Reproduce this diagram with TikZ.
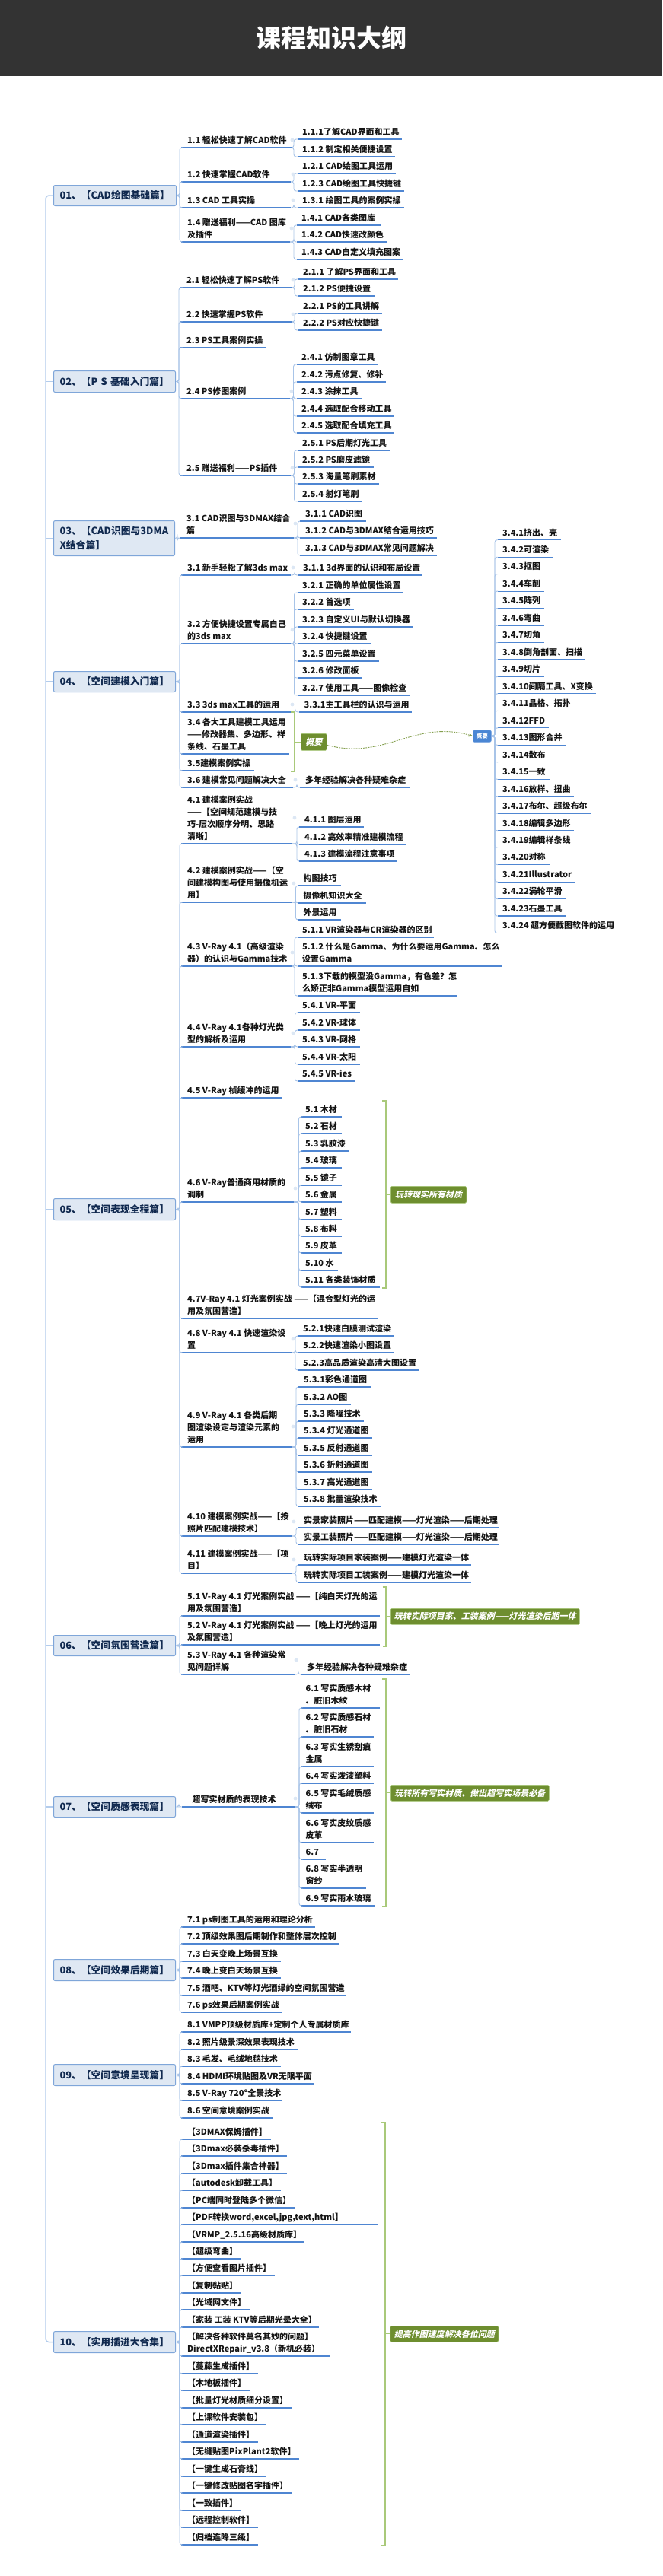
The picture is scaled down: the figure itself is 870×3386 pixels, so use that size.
\documentclass[tikz,border=0pt]{standalone}
\usepackage{fontspec}
\setmainfont{Noto Sans CJK SC}
\newfontfamily\slantface{Noto Sans CJK SC}[BoldFeatures={FakeSlant=0.22}]
\usetikzlibrary{arrows.meta}
\definecolor{barcol}{HTML}{333333}
\definecolor{ulinecol}{HTML}{4F86D2}
\definecolor{conncol}{HTML}{A8C4E8}
\definecolor{spinecol}{HTML}{B3CCEC}
\definecolor{rootfill}{HTML}{DFE8F3}
\definecolor{rootline}{HTML}{7FA6D9}
\definecolor{rootink}{HTML}{10294F}
\definecolor{knobcol}{HTML}{DCE7F4}
\definecolor{sumfill}{HTML}{6E8E2F}
\definecolor{sumline}{HTML}{A9C97A}
\definecolor{bluefill}{HTML}{4A86D4}
\tikzset{
  topic/.style={anchor=south west,inner sep=0pt,align=left,text=black!92,font=\fontsize{11}{16}\selectfont\bfseries},
  uline/.style={draw=ulinecol,line width=1.1pt},
  conn/.style={draw=conncol,line width=0.9pt,rounded corners=3pt},
  spine/.style={draw=spinecol,line width=1.5pt,rounded corners=4pt},
  rootbox/.style={draw=rootline,fill=rootfill,line width=1pt,rounded corners=2pt,anchor=north west,inner xsep=8pt,inner ysep=0pt,align=left,text=rootink,font=\fontsize{12.8}{19}\selectfont\bfseries},
  sumbox/.style={draw=sumline,fill=sumfill,line width=0.5pt,rounded corners=1.5pt,anchor=north west,inner sep=0pt,align=center,text=white,font=\slantface\fontsize{11}{14}\selectfont\bfseries},
  bracket/.style={draw=sumline,line width=1.1pt},
  sumlink/.style={draw=sumfill!85!white,line width=0.9pt,dash pattern=on 2pt off 1.2pt,-{Stealth[length=5pt,width=4.5pt]}},
  bluebox/.style={draw=bluefill!80!white,fill=bluefill,line width=0.6pt,rounded corners=2pt,anchor=north west,inner sep=0pt,align=center,text=white,font=\fontsize{7.5}{9}\selectfont\bfseries},
  titletext/.style={text=white,inner sep=0pt,font=\fontsize{33}{36}\selectfont\bfseries},
}
\newcommand{\tp}[6]{%
  \coordinate (#1-a) at (#3,#5);
  \coordinate (#1-b) at (#4,#5);
  \node[topic] (#1) at (#2,#5-0.7) {#6\strut};
  \draw[uline] (#1-a) -- (#1-b);
}
\newcommand{\linkup}[3]{%
  \coordinate (vv) at (#2,0);
  \foreach \cc in {#3}{\draw[conn] (#1) -- (vv |- #1) -- (vv |- \cc-a) -- (\cc-a);}
}
\newcommand{\knob}[2]{\fill[knobcol] (#1,#2) circle (2.4pt);}
\newcommand{\rootb}[6]{%
  \node[rootbox,minimum width=#4pt-#2pt,minimum height=#5pt-#3pt,text width=#4pt-#2pt-16pt] (#1) at (#2,#3) {#6};
}
\newcommand{\summ}[6]{%
  \node[sumbox,minimum width=#4pt-#2pt,minimum height=#5pt-#3pt] (#1) at (#2,#3) {#6};
}
\newcommand{\brk}[5]{%
  \coordinate (#1-t) at (#3,#4);
  \coordinate (#1-u) at (#3,#5);
  \coordinate (#1-v) at (#2,0);
  \draw[bracket] (#1-t) -- (#1-v |- #1-t) -- (#1-v |- #1-u) -- (#1-u);
  \draw[bracket] (#1-v |- #1.west) -- (#1.west);
}
\begin{document}
\begin{tikzpicture}[x=1pt,y=-1pt]
\useasboundingbox (0,0) rectangle (870,3386);
\fill[white] (0,0) rectangle (870,3386);
\fill[barcol] (0,0) rectangle (870,100);
\node[titletext] (title) at (435,50) {课程知识大纲};

% roots
\rootb{r01}{70}{243}{231}{270}{01、【CAD绘图基础篇】}
\rootb{r02}{70}{487}{230}{515}{02、【P S 基础入门篇】}
\rootb{r03}{70}{684}{229}{730}{03、【CAD识图与3DMA\\X结合篇】}
\rootb{r04}{70}{882}{230}{909}{04、【空间建模入门篇】}
\rootb{r05}{70}{1575}{230}{1603}{05、【空间表现全程篇】}
\rootb{r06}{70}{2149}{230}{2176}{06、【空间氛围营造篇】}
\rootb{r07}{70}{2361}{230}{2388}{07、【空间质感表现篇】}
\rootb{r08}{70}{2575}{230}{2603}{08、【空间效果后期篇】}
\rootb{r09}{70}{2713}{230}{2741}{09、【空间意境呈现篇】}
\rootb{r10}{70}{3064}{230}{3092}{10、【实用插进大合集】}
\coordinate (sx) at (60,0);
\draw[spine] (r01.west) -- (sx |- r01.west) -- (sx |- r10.west) -- (r10.west);
\foreach \rr in {r02,r03,r04,r05,r06,r07,r08,r09}{\draw[spine] (sx |- \rr.west) -- (\rr.west);}
\foreach \rr in {r01,r02,r03,r04,r05,r06,r07,r08,r09,r10}{\fill[knobcol] (\rr.east) ++(3,0) circle (2.2pt);}

% group 01
\tp{t11}{246}{238}{383}{194}{1.1 轻松快速了解CAD软件}
\tp{t12}{246}{238}{382}{239}{1.2 快速掌握CAD软件}
\tp{t13}{246}{238}{382}{273}{1.3 CAD 工具实操}
\tp{t14}{246}{238}{381}{318}{1.4 赠送福利——CAD 图库\\及插件}
\tp{t111}{397}{391}{528}{183}{1.1.1了解CAD界面和工具}
\tp{t112}{397}{391}{519}{206}{1.1.2 制定相关便捷设置}
\tp{t121}{397}{391}{520}{228}{1.2.1 CAD绘图工具运用}
\tp{t123}{397}{391}{531}{251}{1.2.3 CAD绘图工具快捷键}
\tp{t131}{397}{391}{531}{273}{1.3.1 绘图工具的案例实操}
\tp{t141}{396}{390}{500}{296}{1.4.1 CAD各类图库}
\tp{t142}{396}{390}{508}{318}{1.4.2 CAD快速改颜色}
\tp{t143}{396}{390}{530}{341}{1.4.3 CAD自定义填充图案}
\linkup{r01.east}{236}{t11,t12,t13,t14}
\linkup{t11-b}{386}{t111,t112}\knob{384}{184}
\linkup{t12-b}{386}{t121,t123}\knob{385}{229}
\linkup{t13-b}{386}{t131}\knob{385}{263}
\linkup{t14-b}{386}{t141,t142,t143}\knob{383}{300}

% group 02
\tp{t21}{245}{237}{383}{378}{2.1 轻松快速了解PS软件}
\tp{t22}{245}{237}{383}{423}{2.2 快速掌握PS软件}
\tp{t23}{245}{237}{350}{457}{2.3 PS工具案例实操}
\tp{t24}{245}{237}{381}{524}{2.4 PS修图案例}
\tp{t25}{245}{237}{382}{625}{2.5 赠送福利——PS插件}
\tp{t211}{398}{392}{523}{367}{2.1.1 了解PS界面和工具}
\tp{t212}{398}{392}{492}{389}{2.1.2 PS便捷设置}
\tp{t221}{398}{392}{502}{412}{2.2.1 PS的工具讲解}
\tp{t222}{398}{392}{502}{434}{2.2.2 PS对应快捷键}
\tp{t241}{396}{390}{497}{479}{2.4.1 仿制图章工具}
\tp{t242}{396}{390}{507}{502}{2.4.2 污点修复、修补}
\tp{t243}{396}{390}{475}{524}{2.4.3 涂抹工具}
\tp{t244}{396}{390}{518}{547}{2.4.4 选取配合移动工具}
\tp{t245}{396}{390}{518}{569}{2.4.5 选取配合填充工具}
\tp{t251}{397}{391}{513}{592}{2.5.1 PS后期灯光工具}
\tp{t252}{397}{391}{491}{614}{2.5.2 PS磨皮滤镜}
\tp{t253}{397}{391}{497.5}{636}{2.5.3 海量笔刷素材}
\tp{t254}{397}{391}{476}{659}{2.5.4 射灯笔刷}
\linkup{r02.east}{235}{t21,t22,t23,t24,t25}
\linkup{t21-b}{387}{t211,t212}\knob{385}{368}
\linkup{t22-b}{387}{t221,t222}\knob{385}{413}
\linkup{t24-b}{385.5}{t241,t242,t243,t244,t245}\knob{383}{514}
\linkup{t25-b}{386.5}{t251,t252,t253,t254}\knob{384}{615}

% group 03
\tp{t31}{245}{236}{386}{707}{3.1 CAD识图与3DMAX结合\\篇}
\tp{t311}{401}{394}{481}{685}{3.1.1 CAD识图}
\tp{t312}{401}{394}{574}{707}{3.1.2 CAD与3DMAX结合运用技巧}
\tp{t313}{401}{394}{574}{730}{3.1.3 CAD与3DMAX常见问题解决}
\linkup{r03.east}{233}{t31}
\linkup{t31-b}{391}{t311,t312,t313}\knob{388}{688}

% group 04
\tp{t41}{246}{238}{382}{756}{3.1 新手轻松了解3ds max}
\tp{t42}{246}{238}{382}{846}{3.2 方便快捷设置专属自己\\的3ds max}
\tp{t43}{246}{238}{383}{936}{3.3 3ds max工具的运用}
\tp{t44}{246}{238}{380}{991}{3.4 各大工具建模工具运用\\——修改器集、多边形、样\\条线、石墨工具}
\tp{t45}{246}{238}{334}{1013}{3.5建模案例实操}
\tp{t46}{246}{238}{385}{1035}{3.6 建模常见问题解决大全}
\tp{t411}{398}{392}{555}{756}{3.1.1 3d界面的认识和布局设置}
\tp{t421}{397}{391}{530}{779}{3.2.1 正确的单位属性设置}
\tp{t422}{397}{391}{465}{801}{3.2.2 首选项}
\tp{t423}{397}{391}{542}{824}{3.2.3 自定义UI与默认切换器}
\tp{t424}{397}{391}{487}{846}{3.2.4 快捷键设置}
\tp{t425}{397}{391}{498}{869}{3.2.5 四元菜单设置}
\tp{t426}{397}{391}{476}{891}{3.2.6 修改面板}
\tp{t427}{397}{391}{538}{914}{3.2.7 使用工具——图像检查}
\tp{t431}{399.5}{393}{541}{936}{3.3.1主工具栏的认识与运用}
\tp{t461}{401}{394}{538}{1035}{多年经验解决各种疑难杂症}
\linkup{r04.east}{236}{t41,t42,t43,t44,t45,t46}
\linkup{t41-b}{387}{t411}\knob{385}{746}
\linkup{t42-b}{386.5}{t421,t422,t423,t424,t425,t426,t427}\knob{384}{828}
\linkup{t43-b}{388}{t431}\knob{384}{926}
\linkup{t46-b}{390}{t461}\knob{388}{1025}

% summary on 3.4-3.5, and the 3.4 list
\summ{s34}{395}{964}{429}{986}{概要}
\brk{s34}{387}{382}{936}{1014}
\node[bluebox,minimum width=24pt,minimum height=15.5pt] (b34) at (621,959.5) {概要};
\draw[sumlink] (s34.east) ++(0,4) .. controls (505,1000) and (545,945) .. (b34.west);
\tp{u1}{660}{654}{737}{709.7}{3.4.1挤出、壳}
\tp{u2}{660}{654}{726}{732.2}{3.4.2可渲染}
\tp{u3}{660}{654}{715}{754.6}{3.4.3抠图}
\tp{u4}{660}{654}{715}{777.1}{3.4.4车削}
\tp{u5}{660}{654}{715}{799.6}{3.4.5阵列}
\tp{u6}{660}{654}{715}{822}{3.4.6弯曲}
\tp{u7}{660}{654}{715}{844.5}{3.4.7切角}
\tp{u8}{660}{654}{769}{867}{3.4.8倒角剖面、扫描}
\tp{u9}{660}{654}{715}{889.5}{3.4.9切片}
\tp{u10}{660}{654}{783}{911.9}{3.4.10间隔工具、X变换}
\tp{u11}{660}{654}{754}{934.4}{3.4.11晶格、拓扑}
\tp{u12}{660}{654}{721}{956.9}{3.4.12FFD}
\tp{u13}{660}{654}{743}{979.3}{3.4.13图形合并}
\tp{u14}{660}{654}{722}{1001.8}{3.4.14散布}
\tp{u15}{660}{654}{722}{1024.3}{3.4.15一致}
\tp{u16}{660}{654}{754}{1046.8}{3.4.16放样、扭曲}
\tp{u17}{660}{654}{776}{1069.2}{3.4.17布尔、超级布尔}
\tp{u18}{660}{654}{754}{1091.7}{3.4.18编辑多边形}
\tp{u19}{660}{654}{754}{1114.2}{3.4.19编辑样条线}
\tp{u20}{660}{654}{722}{1136.6}{3.4.20对称}
\tp{u21}{660}{654}{755}{1159.1}{3.4.21Illustrator}
\tp{u22}{660}{654}{743}{1181.6}{3.4.22涡轮平滑}
\tp{u23}{660}{654}{743}{1204}{3.4.23石墨工具}
\tp{u24}{660}{654}{811}{1226.5}{3.4.24 超方便截图软件的运用}
\linkup{b34.east}{650}{u1,u2,u3,u4,u5,u6,u7,u8,u9,u10,u11,u12,u13,u14,u15,u16,u17,u18,u19,u20,u21,u22,u23,u24}

% group 05
\tp{t51}{246}{238}{384}{1109}{4.1 建模案例实战\\——【空间规范建模与技\\巧-层次顺序分明、思路\\清晰】}
\tp{t52}{246}{238}{383}{1186}{4.2 建模案例实战——【空\\间建模构图与使用摄像机运\\用】}
\tp{t53}{246}{238}{383}{1270}{4.3 V-Ray 4.1（高级渲染\\器）的认识与Gamma技术}
\tp{t54}{246}{238}{382}{1376}{4.4 V-Ray 4.1各种灯光类\\型的解析及运用}
\tp{t55}{246}{238}{370}{1443}{4.5 V-Ray 桢缓冲的运用}
\tp{t56}{246}{238}{386}{1580}{4.6 V-Ray普通商用材质的\\调制}
\tp{t57}{246}{238}{495.5}{1733}{4.7V-Ray 4.1 灯光案例实战 ——【混合型灯光的运\\用及氛围营造】}
\tp{t58}{246}{238}{383}{1778}{4.8 V-Ray 4.1 快速渲染设\\置}
\tp{t59}{246}{238}{384}{1902}{4.9 V-Ray 4.1 各类后期\\图渲染设定与渲染元素的\\运用}
\tp{t510}{246}{238}{383}{2019}{4.10 建模案例实战——【按\\照片匹配建模技术】}
\tp{t511}{246}{238}{383}{2068}{4.11 建模案例实战——【项\\目】}
\linkup{r05.east}{236}{t51,t52,t53,t54,t55,t56,t57,t58,t59,t510,t511}
\tp{t511a}{400}{393}{478}{1087}{4.1.1 图层运用}
\tp{t512a}{400}{393}{533}{1110}{4.1.2 高效率精准建模流程}
\tp{t513a}{400}{393}{522}{1132}{4.1.3 建模流程注意事项}
\linkup{t51-b}{390}{t511a,t512a,t513a}\knob{387}{1075}
\tp{t521}{398.5}{392}{448}{1164}{构图技巧}
\tp{t522}{398.5}{392}{481}{1187}{摄像机知识大全}
\tp{t523}{398.5}{392}{448}{1209}{外景运用}
\linkup{t52-b}{388.5}{t521,t522,t523}\knob{386}{1161}
\tp{t531}{397}{391}{570}{1232}{5.1.1 VR渲染器与CR渲染器的区别}
\tp{t532}{397}{391}{659}{1270}{5.1.2 什么是Gamma、为什么要运用Gamma、怎么\\设置Gamma}
\tp{t533}{397}{391}{600}{1309}{5.1.3下载的模型没Gamma，有色差？怎\\么矫正非Gamma模型运用自如}
\linkup{t53-b}{387}{t531,t532,t533}\knob{384}{1252}
\tp{t541}{397}{391}{473}{1331}{5.4.1 VR-平面}
\tp{t542}{397}{391}{473}{1354}{5.4.2 VR-球体}
\tp{t543}{397}{391}{473}{1376}{5.4.3 VR-网格}
\tp{t544}{397}{391}{473}{1399}{5.4.4 VR-太阳}
\tp{t545}{397}{391}{467}{1421}{5.4.5 VR-ies}
\linkup{t54-b}{387.5}{t541,t542,t543,t544,t545}\knob{385}{1358}
\tp{t561}{401}{395}{449}{1468}{5.1 木材}
\tp{t562}{401}{395}{449}{1490}{5.2 石材}
\tp{t563}{401}{395}{459}{1513}{5.3 乳胶漆}
\tp{t564}{401}{395}{449}{1535}{5.4 玻璃}
\tp{t565}{401}{395}{449}{1558}{5.5 镜子}
\tp{t566}{401}{395}{449}{1580}{5.6 金属}
\tp{t567}{401}{395}{449}{1603}{5.7 塑料}
\tp{t568}{401}{395}{449}{1625}{5.8 布料}
\tp{t569}{401}{395}{449}{1647}{5.9 皮革}
\tp{t5610}{401}{395}{444}{1670}{5.10 水}
\tp{t5611}{401}{395}{499}{1692}{5.11 各类装饰材质}
\linkup{t56-b}{392.5}{t561,t562,t563,t564,t565,t566,t567,t568,t569,t5610,t5611}\knob{388}{1562}
\summ{s56}{513}{1559}{612.5}{1581}{玩转现实所有材质}
\brk{s56}{507}{502}{1447}{1693}
\tp{t581}{398}{391.5}{518}{1756}{5.2.1快速白膜测试渲染}
\tp{t582}{398}{391.5}{518}{1778}{5.2.2快速渲染小图设置}
\tp{t583}{398}{391.5}{550}{1801}{5.2.3高品质渲染高清大图设置}
\linkup{t58-b}{388}{t581,t582,t583}\knob{385}{1760}
\tp{t591}{399}{392}{487}{1823}{5.3.1彩色通道图}
\tp{t592}{399}{392}{461}{1846}{5.3.2 AO图}
\tp{t593}{399}{392}{478}{1868}{5.3.3 降噪技术}
\tp{t594}{399}{392}{489}{1890}{5.3.4 灯光通道图}
\tp{t595}{399}{392}{489}{1913}{5.3.5 反射通道图}
\tp{t596}{399}{392}{489}{1935}{5.3.6 折射通道图}
\tp{t597}{399}{392}{489}{1958}{5.3.7 高光通道图}
\tp{t598}{399}{392}{499.5}{1980}{5.3.8 批量渲染技术}
\linkup{t59-b}{389}{t591,t592,t593,t594,t595,t596,t597,t598}\knob{385}{1875}
\tp{t5101}{399}{392}{656}{2008}{实景家装照片——匹配建模——灯光渲染——后期处理}
\tp{t5102}{399}{392}{656}{2030}{实景工装照片——匹配建模——灯光渲染——后期处理}
\linkup{t510-b}{389}{t5101,t5102}\knob{386}{2000}
\tp{t5111}{399}{392}{619}{2057}{玩转实际项目家装案例——建模灯光渲染一体}
\tp{t5112}{399}{392}{619}{2080}{玩转实际项目工装案例——建模灯光渲染一体}
\linkup{t511-b}{389}{t5111,t5112}\knob{386}{2050}

% group 06
\tp{t61}{246}{238}{498.5}{2124}{5.1 V-Ray 4.1 灯光案例实战 ——【纯白天灯光的运\\用及氛围营造】}
\tp{t62}{246}{238}{498.5}{2162}{5.2 V-Ray 4.1 灯光案例实战 ——【晚上灯光的运用\\及氛围营造】}
\tp{t63}{246}{238}{387}{2201}{5.3 V-Ray 4.1 各种渲染常\\见问题详解}
\tp{t631}{403}{396}{539}{2201}{多年经验解决各种疑难杂症}
\linkup{r06.east}{236}{t61,t62,t63}
\linkup{t63-b}{392}{t631}\knob{389}{2182}
\summ{s6}{513}{2114}{761}{2135}{玩转实际项目家、工装案例——灯光渲染后期一体}
\brk{s6}{507}{502.5}{2086}{2164}

% group 07
\tp{t71}{252.5}{239}{388}{2375}{超写实材质的表现技术}
\tp{t711}{401.5}{395.5}{498.5}{2245}{6.1 写实质感木材\\、脏旧木纹}
\tp{t712}{401.5}{395.5}{491}{2283}{6.2 写实质感石材\\、脏旧石材}
\tp{t713}{401.5}{395.5}{491}{2322}{6.3 写实生锈刮痕\\金属}
\tp{t714}{401.5}{395.5}{491}{2344}{6.4 写实泼漆塑料}
\tp{t715}{401.5}{395.5}{491}{2383}{6.5 写实毛绒质感\\绒布}
\tp{t716}{401.5}{395.5}{491}{2422}{6.6 写实皮纹质感\\皮革}
\tp{t717}{401.5}{395.5}{427.5}{2444}{6.7}
\tp{t718}{401.5}{395.5}{481}{2482}{6.8 写实半透明\\窗纱}
\tp{t719}{401.5}{395.5}{492}{2505}{6.9 写实雨水玻璃}
\linkup{r07.east}{235}{t71}
\linkup{t71-b}{393}{t711,t712,t713,t714,t715,t716,t717,t718,t719}\knob{388}{2364}
\summ{s7}{513}{2346}{721}{2367}{玩转所有写实材质、做出超写实场景必备}
\brk{s7}{507}{502}{2207}{2506}

% group 08
\tp{t81}{246}{238}{414}{2533}{7.1 ps制图工具的运用和理论分析}
\tp{t82}{246}{238}{445}{2555}{7.2 顶级效果图后期制作和整体层次控制}
\tp{t83}{246}{238}{369}{2578}{7.3 白天变晚上场景互换}
\tp{t84}{246}{238}{369}{2600}{7.4 晚上变白天场景互换}
\tp{t85}{246}{238}{454.5}{2623}{7.5 酒吧、KTV等灯光酒绿的空间氛围营造}
\tp{t86}{246}{238}{371}{2645}{7.6 ps效果后期案例实战}
\linkup{r08.east}{236}{t81,t82,t83,t84,t85,t86}

% group 09
\tp{t91}{246}{238}{461}{2671}{8.1 VMPP顶级材质库+定制个人专属材质库}
\tp{t92}{246}{238}{391}{2694}{8.2 照片级景深效果表现技术}
\tp{t93}{246}{238}{369}{2716}{8.3 毛发、毛绒地毯技术}
\tp{t94}{246}{238}{413}{2739}{8.4 HDMI环境贴图及VR无限平面}
\tp{t95}{246}{238}{371}{2761}{8.5 V-Ray 720°全景技术}
\tp{t96}{246}{238}{358}{2784}{8.6 空间意境案例实战}
\linkup{r09.east}{236}{t91,t92,t93,t94,t95,t96}

% group 10
\tp{p1}{246}{238}{356}{2812}{【3DMAX保姆插件】}
\tp{p2}{246}{238}{377}{2834}{【3Dmax必装杀毒插件】}
\tp{p3}{246}{238}{377}{2857}{【3Dmax插件集合神器】}
\tp{p4}{246}{238}{369}{2879}{【autodesk卸载工具】}
\tp{p5}{246}{238}{387}{2902}{【PC端同时登陆多个微信】}
\tp{p6}{246}{238}{497}{2924}{【PDF转换word,excel,jpg,text,html】}
\tp{p7}{246}{238}{399}{2947}{【VRMP\_2.5.16高级材质库】}
\tp{p8}{246}{238}{317}{2969}{【超级弯曲】}
\tp{p9}{246}{238}{361}{2991}{【方便查看图片插件】}
\tp{p10}{246}{238}{317}{3014}{【复制黏贴】}
\tp{p11}{246}{238}{329}{3036}{【光域网文件】}
\tp{p12}{246}{238}{419}{3059}{【家装 工装 KTV等后期光晕大全】}
\tp{p13}{246}{238}{433}{3097}{【解决各种软件莫名其妙的问题】\\DirectXRepair\_v3.8（新机必装）}
\tp{p14}{246}{238}{339}{3120}{【蔓藤生成插件】}
\tp{p15}{246}{238}{329}{3142}{【木地板插件】}
\tp{p16}{246}{238}{383}{3165}{【批量灯光材质细分设置】}
\tp{p17}{246}{238}{350}{3187}{【上课软件安装包】}
\tp{p18}{246}{238}{339}{3210}{【通道渲染插件】}
\tp{p19}{246}{238}{393}{3232}{【无缝贴图PixPlant2软件】}
\tp{p20}{246}{238}{350}{3255}{【一键生成石膏线】}
\tp{p21}{246}{238}{383}{3277}{【一键修改贴图名字插件】}
\tp{p22}{246}{238}{317}{3300}{【一致插件】}
\tp{p23}{246}{238}{339}{3322}{【远程控制软件】}
\tp{p24}{246}{238}{339}{3345}{【归档连降三级】}
\linkup{r10.east}{236}{p1,p2,p3,p4,p5,p6,p7,p8,p9,p10,p11,p12,p13,p14,p15,p16,p17,p18,p19,p20,p21,p22,p23,p24}
\summ{s10}{512.5}{3057}{654.5}{3078}{提高作图速度解决各位问题}
\brk{s10}{506}{500.5}{2790}{3346}
\end{tikzpicture}
\end{document}
